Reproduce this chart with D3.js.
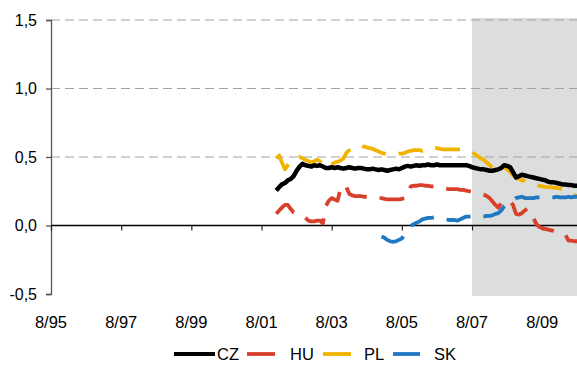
<!DOCTYPE html>
<html>
<head>
<meta charset="utf-8">
<script src="https://cdn.jsdelivr.net/npm/d3@7/dist/d3.min.js"></script>
<style>
  html, body { margin: 0; padding: 0; background: #fff; }
  svg { display: block; font-family: "Liberation Sans", Arial, sans-serif; }
</style>
</head>
<body>
<svg id="chart" width="577" height="367"></svg>
<script>
// Monthly series, Jan 2002 – Aug 2010
const seriesStart = new Date(2002, 0, 1);
const skStart = new Date(2005, 0, 1);

const cz = [
  0.255, 0.28, 0.30, 0.31, 0.33, 0.34, 0.36, 0.40, 0.43, 0.45,
  0.44, 0.435, 0.43, 0.44, 0.435, 0.44, 0.43, 0.42, 0.42, 0.425,
  0.42, 0.425, 0.42, 0.415, 0.42, 0.425, 0.42, 0.415, 0.42, 0.42,
  0.415, 0.41, 0.41, 0.415, 0.41, 0.405, 0.41, 0.405, 0.40, 0.405,
  0.41, 0.415, 0.41, 0.42, 0.43, 0.435, 0.43, 0.435, 0.44, 0.435,
  0.44, 0.44, 0.445, 0.44, 0.44, 0.445, 0.44, 0.44, 0.44, 0.44,
  0.44, 0.44, 0.44, 0.44, 0.44, 0.44, 0.435, 0.425, 0.42, 0.415,
  0.41, 0.41, 0.405, 0.40, 0.40, 0.405, 0.41, 0.42, 0.44, 0.435,
  0.425, 0.39, 0.35, 0.36, 0.37, 0.365, 0.36, 0.355, 0.35, 0.345,
  0.34, 0.335, 0.33, 0.32, 0.315, 0.315, 0.31, 0.305, 0.30, 0.30,
  0.295, 0.295, 0.29, 0.29
];

const hu = [
  0.085, 0.11, 0.13, 0.15, 0.15, 0.12, 0.095, 0.09, 0.085, 0.07,
  0.055, 0.035, 0.03, 0.03, 0.035, 0.035, 0.015, 0.14, 0.18, 0.20,
  0.19, 0.18, 0.27, 0.30, 0.28, 0.23, 0.22, 0.215, 0.215, 0.215,
  0.21, 0.21, 0.205, 0.205, 0.205, 0.20, 0.20, 0.195, 0.19, 0.19,
  0.19, 0.19, 0.19, 0.195, 0.20, 0.205, 0.285, 0.29, 0.29, 0.295,
  0.295, 0.29, 0.29, 0.285, 0.285, 0.28, 0.275, 0.27, 0.27, 0.265,
  0.265, 0.265, 0.265, 0.26, 0.26, 0.255, 0.25, 0.245, 0.24, 0.235,
  0.23, 0.225, 0.215, 0.20, 0.175, 0.15, 0.13, 0.165, 0.18, 0.19,
  0.175, 0.15, 0.085, 0.08, 0.09, 0.11, 0.125, 0.08, 0.055, 0.01,
  -0.01, -0.02, -0.025, -0.03, -0.035, -0.04, -0.045, -0.05, -0.055, -0.07,
  -0.11, -0.11, -0.115, -0.115
];

const pl = [
  0.49, 0.51, 0.46, 0.41, 0.44, 0.46, 0.47, 0.48, 0.50, 0.49,
  0.48, 0.47, 0.46, 0.47, 0.48, 0.47, 0.44, 0.425, 0.43, 0.445,
  0.46, 0.465, 0.475, 0.49, 0.53, 0.55, 0.56, 0.565, 0.58, 0.585,
  0.575, 0.57, 0.565, 0.56, 0.55, 0.54, 0.53, 0.525, 0.52, 0.52,
  0.515, 0.52, 0.525, 0.525, 0.53, 0.54, 0.545, 0.55, 0.55, 0.55,
  0.545, 0.55, 0.56, 0.57, 0.57, 0.565, 0.56, 0.555, 0.555, 0.555,
  0.555, 0.555, 0.555, 0.555, 0.555, 0.55, 0.545, 0.535, 0.52, 0.505,
  0.49, 0.48, 0.46, 0.44, 0.42, 0.41, 0.415, 0.42, 0.42, 0.41,
  0.39, 0.365, 0.35, 0.34, 0.33, 0.325, 0.315, 0.305, 0.30, 0.295,
  0.29, 0.285, 0.28, 0.28, 0.28, 0.275, 0.275, 0.27, 0.265, 0.245,
  0.23, 0.225, 0.22, 0.215
];

// SK starts in Jan 2005
const sk = [
  -0.08, -0.09, -0.105, -0.115, -0.12, -0.115, -0.105, -0.095, -0.06, -0.025,
  -0.005, 0.01, 0.02, 0.03, 0.045, 0.05, 0.055, 0.055, 0.06, 0.055,
  0.05, 0.045, 0.045, 0.04, 0.04, 0.04, 0.035, 0.045, 0.055, 0.065,
  0.065, 0.068, 0.065, 0.065, 0.068, 0.066, 0.07, 0.07, 0.075, 0.085,
  0.09, 0.11, 0.14, 0.16, 0.17, 0.185, 0.20, 0.205, 0.21, 0.20,
  0.20, 0.20, 0.20, 0.205, 0.205, 0.205, 0.205, 0.21, 0.205, 0.205,
  0.21, 0.205, 0.205, 0.205, 0.21, 0.205, 0.21, 0.21
];

const seriesNames = ["CZ", "HU", "PL", "SK"];
const seriesColors = ["#000000", "#d9402b", "#f0b400", "#1f78c1"];

const yTicks = [-0.5, 0, 0.5, 1.0, 1.5];
const xTickLabels = ["8/95", "8/97", "8/99", "8/01", "8/03", "8/05", "8/07", "8/09"];
const crisisStart = new Date(2007, 7, 1);

// ---- layout ----
const svg = d3.select("#chart");
const plotL = 51, plotR = 577, plotT = 20, plotB = 294;

const x = d3.scaleTime()
  .domain([new Date(1995, 7, 1), new Date(2010, 6, 29)])
  .range([plotL, plotR]);
const y = d3.scaleLinear().domain([-0.5, 1.5]).range([plotB, plotT]);

const toPoints = (start, vals) =>
  vals.map((v, i) => ({ date: d3.timeMonth.offset(start, i), value: v }));

const series = [
  { name: "CZ", points: toPoints(seriesStart, cz) },
  { name: "HU", points: toPoints(seriesStart, hu) },
  { name: "PL", points: toPoints(seriesStart, pl) },
  { name: "SK", points: toPoints(skStart, sk) }
];
const color = d3.scaleOrdinal(seriesNames, seriesColors);

svg.append("defs").append("clipPath").attr("id", "plot-clip")
  .append("rect").attr("x", plotL).attr("y", plotT - 4)
  .attr("width", plotR - plotL).attr("height", plotB - plotT + 8);

// shaded period from Aug 2007
svg.append("rect")
  .attr("x", x(crisisStart)).attr("y", plotT - 2)
  .attr("width", plotR - x(crisisStart)).attr("height", plotB - plotT + 4)
  .attr("fill", "#dcdddd");

// dashed gridlines
svg.append("g")
  .selectAll("line").data(yTicks.filter(d => d > 0)).join("line")
  .attr("x1", plotL).attr("x2", plotR)
  .attr("y1", d => y(d)).attr("y2", d => y(d))
  .attr("stroke", "#a3a3a3").attr("stroke-width", 1.2)
  .attr("stroke-dasharray", "9,5");

// y axis (decimal comma, plain hyphen for negatives)
const yAxis = d3.axisLeft(y).tickValues(yTicks).tickSize(5).tickPadding(9)
  .tickFormat(d => d.toFixed(1).replace(".", ","));
const gy = svg.append("g").attr("transform", `translate(${plotL},0)`).call(yAxis);
gy.select(".domain").attr("stroke", "#555").attr("stroke-width", 1.3);
gy.selectAll(".tick line").attr("stroke", "#555").attr("stroke-width", 1.3);
gy.selectAll(".tick text").attr("font-size", 16).attr("fill", "#000")
  .attr("font-family", "Liberation Sans, Arial, sans-serif");

// x axis along zero
const xTickDates = xTickLabels.map(s => {
  const [m, yy] = s.split("/").map(Number);
  return new Date((yy > 50 ? 1900 : 2000) + yy, m - 1, 1);
});
const xAxis = d3.axisBottom(x).tickValues(xTickDates).tickSize(5).tickFormat("");
const gx = svg.append("g").attr("transform", `translate(0,${y(0)})`).call(xAxis);
gx.select(".domain").attr("stroke", "#000").attr("stroke-width", 1.4)
  .attr("d", `M${plotL},0H${plotR}`);
gx.selectAll(".tick line").attr("stroke", "#222").attr("stroke-width", 1.2);

// x labels below the plot
svg.append("g").selectAll("text").data(xTickDates).join("text")
  .attr("x", d => x(d)).attr("y", 328)
  .attr("text-anchor", "middle").attr("font-size", 16.5).attr("fill", "#000")
  .text((d, i) => xTickLabels[i]);

// series lines
const line = d3.line().x(d => x(d.date)).y(d => y(d.value));
const gLines = svg.append("g").attr("clip-path", "url(#plot-clip)");
series.filter(s => s.name !== "CZ").forEach(s => {
  gLines.append("path").datum(s.points)
    .attr("d", line).attr("fill", "none")
    .attr("stroke", color(s.name)).attr("stroke-width", 3.8)
    .attr("stroke-dasharray", "25,13").attr("stroke-linejoin", "round");
});
gLines.append("path").datum(series[0].points)
  .attr("d", line).attr("fill", "none")
  .attr("stroke", color("CZ")).attr("stroke-width", 4.5)
  .attr("stroke-linejoin", "round");

// legend
const legendItems = [
  { name: "CZ", x1: 174, x2: 215, tx: 217 },
  { name: "HU", x1: 247, x2: 275, tx: 290 },
  { name: "PL", x1: 323, x2: 351, tx: 364 },
  { name: "SK", x1: 393, x2: 420, tx: 434 }
];
const lg = svg.append("g");
legendItems.forEach(it => {
  lg.append("line").attr("x1", it.x1).attr("x2", it.x2)
    .attr("y1", 354).attr("y2", 354)
    .attr("stroke", color(it.name)).attr("stroke-width", 3.8);
  lg.append("text").attr("x", it.tx).attr("y", 360)
    .attr("font-size", 16.5).attr("fill", "#000").text(it.name);
});
</script>
</body>
</html>
